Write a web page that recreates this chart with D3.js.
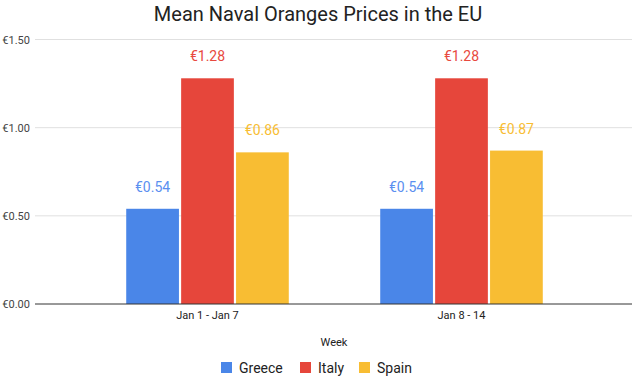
<!DOCTYPE html>
<html><head><meta charset="utf-8">
<script src="https://cdn.jsdelivr.net/npm/d3@7"></script>
<style>body{margin:0;background:#fff}svg{font-family:Roboto,Arial,sans-serif}</style>
</head><body>
<script>
const categories = ["Jan 1 - Jan 7", "Jan 8 - 14"];
const seriesNames = ["Greece", "Italy", "Spain"];
const greece = [0.54, 0.54];
const italy = [1.28, 1.28];
const spain = [0.86, 0.87];
const yTicks = [0, 0.5, 1.0, 1.5];
const colors = ["#4a86e8", "#e6463b", "#f8bd33"];
const labelColors = ["#5b8ff0", "#e8493e", "#f8bd33"];
const values = [greece, italy, spain];

const W = 635, H = 378;
const svg = d3.select("body").append("svg").attr("width", W).attr("height", H);

const y = d3.scaleLinear().domain([0, 1.5]).range([304, 39.5]);
const x0 = d3.scaleBand().domain(categories).range([80.5, 588.5]).paddingInner(0.36).paddingOuter(0.18);
const x1 = d3.scaleBand().domain(seriesNames).range([0, x0.bandwidth()]).paddingInner(0.04);
const fmt = v => "€" + d3.format(".2f")(v);

svg.append("text").attr("x", 318).attr("y", 21).attr("text-anchor", "middle")
  .attr("font-size", 20).attr("fill", "#222").text("Mean Naval Oranges Prices in the EU");

const gridG = svg.append("g");
yTicks.forEach(t => {
  if (t > 0) gridG.append("line").attr("x1", 35).attr("x2", 632).attr("y1", y(t)).attr("y2", y(t))
    .attr("stroke", "#e0e0e0").attr("stroke-width", 1);
  gridG.append("text").attr("x", 30).attr("y", y(t) + 4).attr("text-anchor", "end")
    .attr("font-size", 11).attr("fill", "#444").text(fmt(t));
});

const data = [];
categories.forEach((c, i) => seriesNames.forEach((s, j) => data.push({c, s, j, v: values[j][i]})));

svg.append("g").selectAll("rect").data(data).join("rect")
  .attr("x", d => x0(d.c) + x1(d.s)).attr("width", x1.bandwidth())
  .attr("y", d => y(d.v)).attr("height", d => y(0) - y(d.v))
  .attr("fill", d => colors[d.j]);

svg.append("g").selectAll("text").data(data).join("text")
  .attr("x", d => x0(d.c) + x1(d.s) + x1.bandwidth() / 2)
  .attr("y", d => y(d.v) - 17).attr("text-anchor", "middle")
  .attr("font-size", 14).attr("fill", d => labelColors[d.j]).text(d => fmt(d.v));

svg.append("line").attr("x1", 35).attr("x2", 632).attr("y1", y(0)).attr("y2", y(0))
  .attr("stroke", "#333").attr("stroke-width", 1);

categories.forEach(c => {
  svg.append("text").attr("x", x0(c) + x0.bandwidth() / 2).attr("y", 319).attr("text-anchor", "middle")
    .attr("font-size", 11).attr("fill", "#222").text(c);
});

svg.append("text").attr("x", 334).attr("y", 346).attr("text-anchor", "middle")
  .attr("font-size", 11).attr("fill", "#222").text("Week");

const legendX = [221, 300, 359];
seriesNames.forEach((s, j) => {
  svg.append("rect").attr("x", legendX[j]).attr("y", 362).attr("width", 11).attr("height", 11).attr("fill", colors[j]);
  svg.append("text").attr("x", legendX[j] + 18).attr("y", 373).attr("font-size", 14).attr("fill", "#222").text(s);
});
</script>
</body></html>
